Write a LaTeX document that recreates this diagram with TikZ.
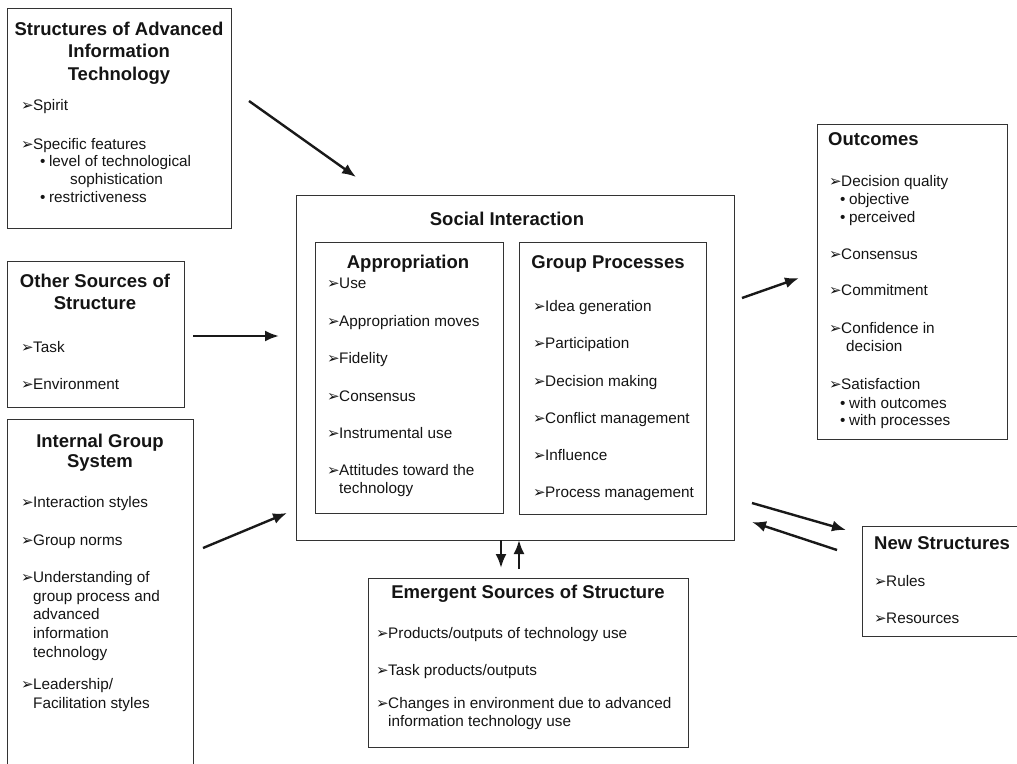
\documentclass[tikz,border=0pt]{standalone}
\usepackage{fontspec}
\setmainfont{Liberation Sans}
\newfontfamily\symfont{DejaVu Sans}
\usetikzlibrary{arrows.meta}

% list marker and sub-bullet
\newcommand\itemarrow{\makebox[12pt][l]{\symfont\fontsize{15}{12}\selectfont\raisebox{-0.3pt}{➢}}}
\newcommand\bul{•\hspace{3.5pt}}

% one line of text: body lines start at x, titles are centred on x
\newcounter{ln}
\newcommand\bodyline[3]{\stepcounter{ln}\node[bodytxt] (l\arabic{ln}) at (#1,#2) {#3};}
\newcommand\titleline[3]{\stepcounter{ln}\node[ttl] (l\arabic{ln}) at (#1,#2) {#3};}
\newcommand\titleleft[3]{\stepcounter{ln}\node[ttl,anchor=mid west] (l\arabic{ln}) at (#1,#2) {#3};}

\tikzset{
  box/.style={draw=black!80, line width=1.2pt, inner sep=0pt, anchor=north west},
  ttl/.style={font=\fontsize{18.5}{22.5}\selectfont\bfseries, text=black!92, inner sep=0pt, anchor=mid},
  bodytxt/.style={font=\fontsize{15.3}{18.5}\selectfont, text=black!92, inner sep=0pt, anchor=mid west},
  arr/.style={line width=2.4pt, draw=black!90, -{Latex[length=14pt,width=11pt]}},
}

\begin{document}
\begin{tikzpicture}[x=1pt,y=-1pt]
\useasboundingbox (0,0) rectangle (1017,763);

% ---------- boxes ----------
\node[box, minimum width=224, minimum height=220] (sait)   at (7,8)     {};
\node[box, minimum width=177, minimum height=146] (other)  at (7,261)   {};
\node[box, minimum width=186, minimum height=400] (igs)    at (7,419)   {};
\node[box, minimum width=438, minimum height=345] (social) at (296,195) {};
\node[box, minimum width=188, minimum height=271] (approp) at (315,242) {};
\node[box, minimum width=187, minimum height=272] (gproc)  at (519,242) {};
\node[box, minimum width=190, minimum height=315] (outc)   at (817,124) {};
\node[box, minimum width=180, minimum height=110] (newst)  at (862,526) {};
\node[box, minimum width=320, minimum height=169] (emerg)  at (368,578) {};

% ---------- Structures of Advanced Information Technology ----------
\titleline{119}{33}{Structures of Advanced}
\titleline{119}{55}{Information}
\titleline{119}{78}{Technology}
\bodyline{21}{108}{\itemarrow Spirit}
\bodyline{21}{147}{\itemarrow Specific features}
\bodyline{40}{164}{\bul level of technological}
\bodyline{70}{182}{sophistication}
\bodyline{40}{200}{\bul restrictiveness}

% ---------- Other Sources of Structure ----------
\titleline{95}{285}{Other Sources of}
\titleline{95}{307}{Structure}
\bodyline{21}{350}{\itemarrow Task}
\bodyline{21}{387}{\itemarrow Environment}

% ---------- Internal Group System ----------
\titleline{100}{445}{Internal Group}
\titleline{100}{465}{System}
\bodyline{21}{505}{\itemarrow Interaction styles}
\bodyline{21}{543}{\itemarrow Group norms}
\bodyline{21}{580}{\itemarrow Understanding of}
\bodyline{33}{599}{group process and}
\bodyline{33}{617}{advanced}
\bodyline{33}{636}{information}
\bodyline{33}{655}{technology}
\bodyline{21}{687}{\itemarrow Leadership/}
\bodyline{33}{706}{Facilitation styles}

% ---------- Social Interaction ----------
\titleline{507}{223}{Social Interaction}
\titleline{408}{266}{Appropriation}
\bodyline{327}{286}{\itemarrow Use}
\bodyline{327}{324}{\itemarrow Appropriation moves}
\bodyline{327}{361}{\itemarrow Fidelity}
\bodyline{327}{399}{\itemarrow Consensus}
\bodyline{327}{436}{\itemarrow Instrumental use}
\bodyline{327}{473}{\itemarrow Attitudes toward the}
\bodyline{339}{491}{technology}
\titleline{608}{266}{Group Processes}
\bodyline{533}{309}{\itemarrow Idea generation}
\bodyline{533}{346}{\itemarrow Participation}
\bodyline{533}{384}{\itemarrow Decision making}
\bodyline{533}{421}{\itemarrow Conflict management}
\bodyline{533}{458}{\itemarrow Influence}
\bodyline{533}{495}{\itemarrow Process management}

% ---------- Outcomes ----------
\titleleft{828}{143}{Outcomes}
\bodyline{829}{184}{\itemarrow Decision quality}
\bodyline{840}{202}{\bul objective}
\bodyline{840}{220}{\bul perceived}
\bodyline{829}{257}{\itemarrow Consensus}
\bodyline{829}{293}{\itemarrow Commitment}
\bodyline{829}{331}{\itemarrow Confidence in}
\bodyline{846}{349}{decision}
\bodyline{829}{387}{\itemarrow Satisfaction}
\bodyline{840}{406}{\bul with outcomes}
\bodyline{840}{423}{\bul with processes}

% ---------- New Structures ----------
\titleleft{874}{547}{New Structures}
\bodyline{874}{584}{\itemarrow Rules}
\bodyline{874}{621}{\itemarrow Resources}

% ---------- Emergent Sources of Structure ----------
\titleline{528}{596}{Emergent Sources of Structure}
\bodyline{376}{636}{\itemarrow Products/outputs of technology use}
\bodyline{376}{673}{\itemarrow Task products/outputs}
\bodyline{376}{706}{\itemarrow Changes in environment due to advanced}
\bodyline{388}{724}{information technology use}

% ---------- connector end points ----------
\coordinate (saitOut)   at (249,101);
\coordinate (socialInA) at (356,177);
\coordinate (otherOut)  at (193,336);
\coordinate (socialInB) at (279,336);
\coordinate (igsOut)    at (203,548);
\coordinate (socialInC) at (287,513);
\coordinate (socialOutO) at (742,298);
\coordinate (outcIn)    at (799,278);
\coordinate (socialOutN) at (752,503);
\coordinate (newstIn)   at (846,530);
\coordinate (newstOut)  at (837,550);
\coordinate (socialInN) at (752,522);
\coordinate (socialOutE) at (501,540);
\coordinate (emergIn)   at (501,568);
\coordinate (emergOut)  at (519,569);
\coordinate (socialInE) at (519,540);

% ---------- connectors ----------
\draw[arr] (saitOut) -- (socialInA);
\draw[arr] (otherOut) -- (socialInB);
\draw[arr] (igsOut) -- (socialInC);
\draw[arr] (socialOutO) -- (outcIn);
\draw[arr] (socialOutN) -- (newstIn);
\draw[arr] (newstOut) -- (socialInN);
\draw[arr] (socialOutE) -- (emergIn);
\draw[arr] (emergOut) -- (socialInE);
\end{tikzpicture}
\end{document}
